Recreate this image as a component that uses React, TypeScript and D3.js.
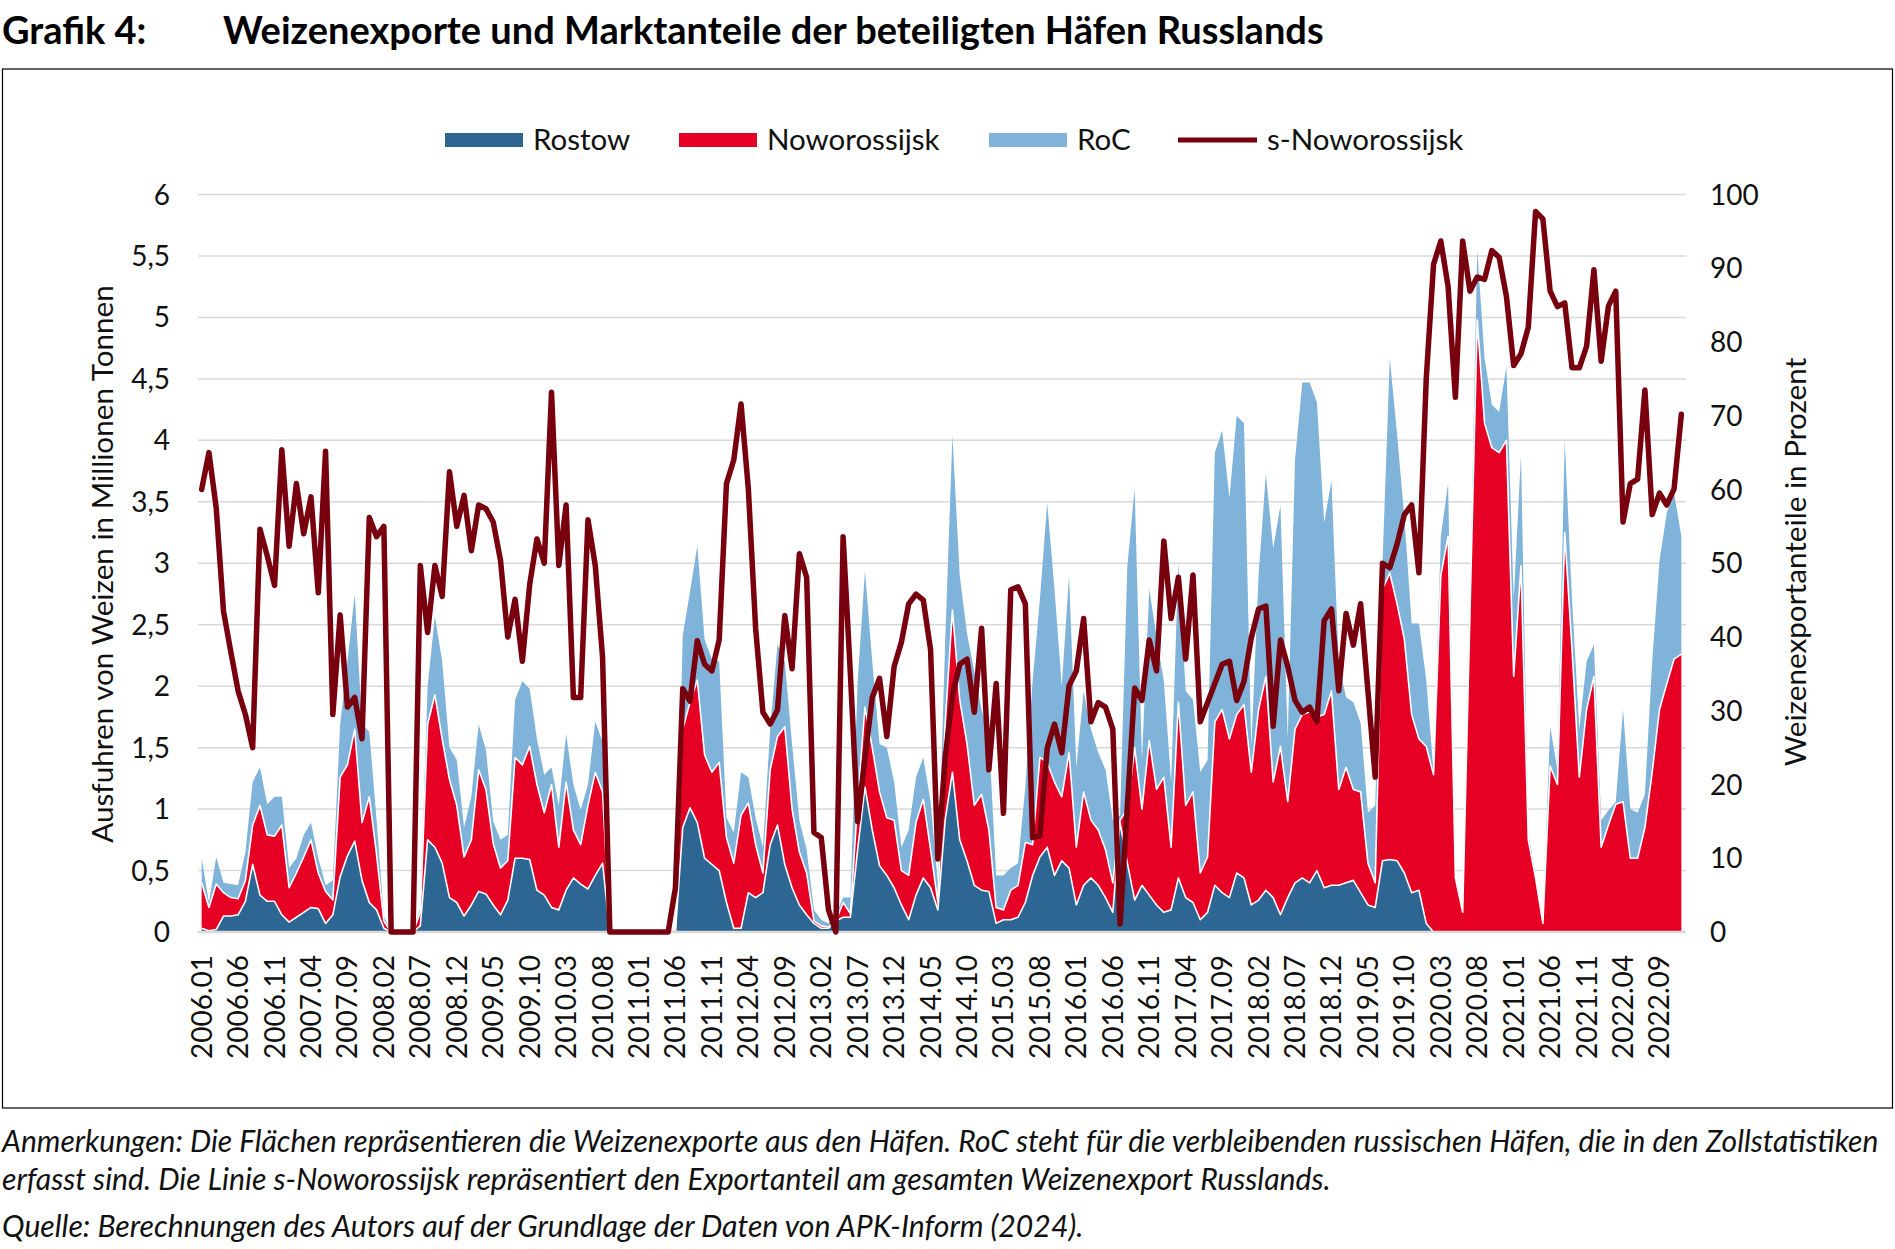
import React from "react";
import * as d3 from "d3";

// ---------- DATA (Mio. t, monthly 2006.01 – 2022.12) ----------
const startYear = 2006;
const nMonths = 204;
const months: string[] = d3.range(nMonths).map(
  (i) => `${startYear + Math.floor(i / 12)}.${String((i % 12) + 1).padStart(2, "0")}`
);

const rostow: number[] = [
  0.03, 0.01, 0.02, 0.13, 0.13, 0.14, 0.25, 0.55, 0.3, 0.25,
  0.25, 0.14, 0.08, 0.12, 0.16, 0.2, 0.19, 0.07, 0.14, 0.45,
  0.62, 0.74, 0.42, 0.24, 0.18, 0.03, 0, 0, 0, 0,
  0.05, 0.75, 0.69, 0.56, 0.28, 0.24, 0.13, 0.22, 0.33, 0.31,
  0.22, 0.14, 0.26, 0.6, 0.6, 0.59, 0.34, 0.3, 0.2, 0.18,
  0.34, 0.44, 0.39, 0.35, 0.46, 0.56, 0, 0, 0, 0,
  0, 0, 0, 0, 0, 0, 0.85, 1.01, 0.89, 0.6,
  0.55, 0.5, 0.24, 0.03, 0.03, 0.32, 0.28, 0.32, 0.71, 0.87,
  0.55, 0.36, 0.22, 0.14, 0.07, 0.03, 0.03, 0.09, 0.12, 0.12,
  0.67, 1.18, 0.83, 0.54, 0.46, 0.36, 0.22, 0.1, 0.3, 0.44,
  0.36, 0.18, 0.91, 1.3, 0.75, 0.58, 0.38, 0.34, 0.33, 0.07,
  0.1, 0.1, 0.12, 0.24, 0.46, 0.61, 0.69, 0.46, 0.58, 0.52,
  0.22, 0.38, 0.44, 0.38, 0.28, 0.16, 0.89, 0.56, 0.26, 0.38,
  0.3, 0.22, 0.16, 0.18, 0.44, 0.28, 0.24, 0.1, 0.16, 0.38,
  0.32, 0.28, 0.48, 0.44, 0.22, 0.26, 0.34, 0.28, 0.14, 0.28,
  0.4, 0.44, 0.4, 0.5, 0.36, 0.38, 0.38, 0.4, 0.42, 0.32,
  0.22, 0.2, 0.58, 0.59, 0.58, 0.48, 0.32, 0.34, 0.07, 0,
  0, 0, 0, 0, 0, 0, 0, 0, 0, 0,
  0, 0, 0, 0, 0, 0, 0, 0, 0, 0,
  0, 0, 0, 0, 0, 0, 0, 0, 0, 0,
  0, 0, 0, 0,
];

const noworossijsk: number[] = [
  0.37, 0.19, 0.37, 0.19, 0.15, 0.13, 0.17, 0.32, 0.73, 0.54,
  0.53, 0.73, 0.28, 0.36, 0.45, 0.55, 0.29, 0.26, 0.12, 0.81,
  0.74, 0.91, 0.47, 0.86, 0.45, 0.06, 0, 0, 0, 0,
  0.11, 0.94, 1.24, 1.01, 0.96, 0.79, 0.48, 0.53, 0.99, 0.85,
  0.5, 0.38, 0.32, 0.82, 0.76, 0.92, 0.86, 0.67, 1.0, 0.51,
  0.88, 0.39, 0.32, 0.68, 0.84, 0.58, 0, 0, 0, 0,
  0, 0, 0, 0, 0, 0.02, 0.8, 0.86, 1.16, 0.84,
  0.75, 0.88, 0.53, 0.53, 0.92, 0.73, 0.43, 0.16, 0.61, 0.72,
  1.12, 0.64, 0.43, 0.34, 0.02, 0.02, 0.01, 0, 0.12, 0.03,
  0.39, 0.65, 0.67, 0.6, 0.47, 0.55, 0.28, 0.36, 0.59, 0.64,
  0.31, 0.06, 0.78, 1.32, 1.14, 0.95, 0.65, 0.78, 0.5, 0.13,
  0.08, 0.24, 0.26, 0.49, 0.25, 0.81, 0.69, 0.76, 0.52, 0.94,
  0.47, 0.76, 0.47, 0.45, 0.39, 0.24, 0.02, 0.44, 1.24, 0.62,
  1.26, 0.94, 1.1, 0.51, 1.43, 0.75, 0.9, 0.38, 0.45, 1.33,
  1.49, 1.29, 1.29, 1.41, 1.08, 1.55, 1.74, 0.94, 1.37, 0.78,
  1.25, 1.33, 1.39, 1.25, 1.41, 1.58, 0.78, 0.94, 0.74, 0.82,
  0.34, 0.2, 2.21, 2.33, 2.09, 1.9, 1.45, 1.23, 1.44, 1.28,
  2.9, 3.22, 0.44, 0.16, 2.6, 4.98, 4.14, 3.94, 3.9, 4.0,
  2.08, 2.98, 0.75, 0.44, 0.07, 1.35, 1.2, 3.25, 2.3, 1.26,
  1.81, 2.08, 0.69, 0.87, 1.04, 1.06, 0.6, 0.6, 0.85, 1.3,
  1.81, 2.02, 2.22, 2.26,
];

const roc: number[] = [
  0.2, 0.04, 0.22, 0.08, 0.11, 0.11, 0.23, 0.35, 0.31, 0.25,
  0.32, 0.23, 0.16, 0.12, 0.18, 0.14, 0.12, 0.05, 0.16, 0.43,
  0.84, 1.1, 0.8, 0.53, 0.28, 0.04, 0, 0, 0, 0,
  0.04, 0.31, 0.64, 0.63, 0.26, 0.37, 0.24, 0.35, 0.37, 0.32,
  0.18, 0.23, 0.21, 0.47, 0.68, 0.47, 0.37, 0.31, 0.14, 0.34,
  0.39, 0.37, 0.28, 0.17, 0.41, 0.41, 0, 0, 0, 0,
  0, 0, 0, 0, 0, 0.01, 0.76, 0.9, 1.09, 0.94,
  0.92, 0.82, 0.16, 0.25, 0.35, 0.21, 0.22, 0.21, 0.33, 0.75,
  0.53, 0.53, 0.26, 0.19, 0.09, 0.05, 0.03, 0.05, 0.04, 0.13,
  0.98, 1.11, 0.7, 0.39, 0.57, 0.31, 0.19, 0.37, 0.37, 0.34,
  0.39, 0.16, 0.67, 1.42, 1.01, 0.9, 1.09, 0.69, 0.76, 0.26,
  0.28, 0.18, 0.18, 0.45, 1.33, 1.29, 2.11, 1.57, 0.9, 1.44,
  0.65, 0.82, 0.74, 0.63, 0.65, 0.51, 0.04, 1.98, 2.11, 0.4,
  1.23, 1.24, 0.78, 0.53, 1.13, 0.93, 0.75, 0.82, 0.79, 2.19,
  2.27, 1.96, 2.43, 2.29, 0.2, 1.09, 1.65, 1.9, 1.96, 0.51,
  2.19, 2.7, 2.68, 2.56, 1.56, 1.71, 1.02, 0.57, 0.71, 0.56,
  0.41, 0.63, 0.21, 1.75, 1.38, 0.99, 0.74, 0.94, 0.54, 0.02,
  0.32, 0.43, 0.02, 0.01, 0.05, 0.57, 0.53, 0.35, 0.33, 0.6,
  0.63, 0.9, 0.05, 0.02, 0.01, 0.32, 0.12, 0.75, 0.41, 0.39,
  0.39, 0.26, 0.22, 0.12, 0.02, 0.75, 0.4, 0.37, 0.27, 0.9,
  1.21, 1.39, 1.35, 0.96,
];

// s-Noworossijsk: export share in %
const shareNoworossijsk: number[] = [
  60, 65, 57.5, 43.5, 38, 32.7, 29.5, 25, 54.6, 51,
  47, 65.4, 52.3, 60.8, 54, 59, 46, 65.2, 29.5, 43,
  30.5, 31.8, 26.2, 56.2, 53.6, 55, 0, 0, 0, 0,
  49.7, 40.6, 49.7, 45.5, 62.4, 55, 59.2, 51.7, 57.9, 57.4,
  55.6, 50.4, 40, 45.1, 36.7, 47.1, 53.3, 50, 73.2, 49.7,
  57.9, 31.8, 31.8, 55.9, 49.7, 37.3, 0, 0, 0, 0,
  0, 0, 0, 0, 0, 6, 33, 31.3, 39.5, 36.3,
  35.4, 39.6, 60.8, 64, 71.6, 60.1, 41.2, 29.8, 28.2, 30.1,
  42.9, 35.7, 51.3, 48.1, 13.5, 12.8, 3, 0, 53.6, 35,
  15, 23.6, 31.8, 34.4, 26.5, 36, 39.3, 44.5, 45.8, 45,
  38.3, 9.9, 23.6, 32.1, 36.3, 37, 29.8, 41.2, 22, 33.7,
  16.1, 46.4, 46.8, 44.5, 12.8, 13, 24.9, 28.2, 24.3, 33.4,
  35.4, 42.5, 28.5, 31.1, 30.5, 27.5, 1.1, 17.1, 33.1, 31.4,
  39.6, 35.4, 53, 42.5, 48.1, 37, 48.4, 28.5, 31.1, 33.7,
  36.3, 36.7, 31.4, 34, 39.9, 43.8, 44.2, 27.9, 39.6, 36,
  31.4, 29.8, 30.5, 28.5, 42.2, 43.8, 32.7, 43.2, 38.9, 44.5,
  32.7, 21, 50, 49.4, 52.6, 56.6, 57.9, 48.7, 75, 90.5,
  93.7, 87.5, 72.5, 93.7, 86.9, 88.8, 88.5, 92.4, 91.5, 86.2,
  76.8, 78.4, 82, 97.7, 96.7, 86.9, 84.8, 85.3, 76.5, 76.5,
  79.4, 89.8, 77.4, 84.9, 86.9, 55.6, 60.8, 61.4, 73.5, 56.6,
  59.5, 57.9, 60.1, 70.2,
];

const leftTicks: number[] = [0, 0.5, 1, 1.5, 2, 2.5, 3, 3.5, 4, 4.5, 5, 5.5, 6];
const rightTicks: number[] = [0, 10, 20, 30, 40, 50, 60, 70, 80, 90, 100];
const xTickLabels: string[] = months.filter((_, i) => i % 5 === 0);

const seriesNames = ["Rostow", "Noworossijsk", "RoC"];
const lineName = "s-Noworossijsk";

const COLORS = {
  rostow: "#2d6692",
  nowor: "#e60023",
  roc: "#80b3da",
  line: "#78000e",
  grid: "#d9d9d9",
};

const FONT = "Lato, 'Open Sans', sans-serif";

export default function App() {
  const W = 1895;
  const H = 1249;
  const x = d3.scalePoint<string>().domain(months).range([198, 1685]).padding(0.5);
  const y = d3.scaleLinear().domain([0, 6]).range([932, 194.5]);
  const y2 = d3.scaleLinear().domain([0, 100]).range([932, 194.5]);

  const rows = months.map((m, i) => ({
    m,
    rostow: rostow[i],
    nowor: noworossijsk[i],
    roc: roc[i],
  }));
  const stack = d3.stack<any>().keys(["rostow", "nowor", "roc"]);
  const layers = stack(rows);
  const area = d3
    .area<any>()
    .x((d) => x(d.data.m) as number)
    .y0((d) => y(d[0]))
    .y1((d) => y(d[1]));
  const topLine = d3
    .line<any>()
    .x((d) => x(d.data.m) as number)
    .y((d) => y(d[1]));
  const shareLine = d3
    .line<number>()
    .x((_, i) => x(months[i]) as number)
    .y((d) => y2(d));

  const fills = [COLORS.rostow, COLORS.nowor, COLORS.roc];
  const gridX1 = 198;
  const gridX2 = 1686;

  const legend = [
    { sx: 445, tx: 533, label: seriesNames[0], color: COLORS.rostow },
    { sx: 679, tx: 767, label: seriesNames[1], color: COLORS.nowor },
    { sx: 989, tx: 1077, label: seriesNames[2], color: COLORS.roc },
  ];

  return (
    <div style={{ position: "absolute", left: 0, top: 0 }}>
      <svg width={W} height={H} style={{ display: "block", background: "#fff" }} fontFamily={FONT}>
        {/* Title */}
        <text x={2} y={44} fontSize={38} fontWeight={700} fill="#000">Grafik 4:</text>
        <text x={223} y={44} fontSize={38} fontWeight={700} fill="#000">
          Weizenexporte und Marktanteile der beteiligten Häfen Russlands
        </text>

        {/* Frame */}
        <rect x={2.5} y={69} width={1890} height={1039} fill="none" stroke="#000" strokeWidth={1.2} />

        {/* Legend */}
        {legend.map((l) => (
          <g key={l.label}>
            <rect x={l.sx} y={133} width={78} height={14} fill={l.color} />
            <text x={l.tx} y={150} fontSize={29.5} fill="#111">{l.label}</text>
          </g>
        ))}
        <line x1={1178} x2={1257} y1={140} y2={140} stroke={COLORS.line} strokeWidth={5} />
        <text x={1267} y={150} fontSize={29.5} fill="#111">{lineName}</text>

        {/* Grid */}
        {leftTicks.filter((t) => t > 0).map((t) => (
          <line key={t} x1={gridX1} x2={gridX2} y1={y(t)} y2={y(t)} stroke={COLORS.grid} strokeWidth={1.5} />
        ))}

        {/* Areas */}
        {layers.map((layer, k) => (
          <path key={k} d={area(layer) || ""} fill={fills[k]} />
        ))}
        {layers.slice(0, 2).map((layer, k) => (
          <path key={"w" + k} d={topLine(layer) || ""} fill="none" stroke="#fff" strokeWidth={1.6} strokeLinejoin="round" />
        ))}

        {/* Baseline */}
        <line x1={gridX1} x2={gridX2} y1={y(0)} y2={y(0)} stroke={COLORS.grid} strokeWidth={2.5} />

        {/* Share line */}
        <path
          d={shareLine(shareNoworossijsk) || ""}
          fill="none"
          stroke={COLORS.line}
          strokeWidth={5.5}
          strokeLinejoin="round"
          strokeLinecap="round"
        />

        {/* Left ticks */}
        {leftTicks.map((t) => (
          <text key={t} x={170} y={y(t) + 10} fontSize={28} textAnchor="end" fill="#111">
            {String(t).replace(".", ",")}
          </text>
        ))}
        {/* Right ticks */}
        {rightTicks.map((t) => (
          <text key={t} x={1710} y={y2(t) + 10} fontSize={28} textAnchor="start" fill="#111">
            {t}
          </text>
        ))}

        {/* X labels */}
        {xTickLabels.map((lab) => {
          const px = x(lab) as number;
          return (
            <text
              key={lab}
              transform={`translate(${px + 10},955) rotate(-90)`}
              fontSize={28}
              textAnchor="end"
              fill="#111"
            >
              {lab}
            </text>
          );
        })}

        {/* Axis titles */}
        <text transform="translate(113,564) rotate(-90)" fontSize={29.7} textAnchor="middle" fill="#111">
          Ausfuhren von Weizen in Millionen Tonnen
        </text>
        <text transform="translate(1806,562) rotate(-90)" fontSize={29.7} textAnchor="middle" fill="#111">
          Weizenexportanteile in Prozent
        </text>

        {/* Footnotes */}
        <text x={2} y={1152} fontSize={30} fontStyle="italic" fill="#111">
          Anmerkungen: Die Flächen repräsentieren die Weizenexporte aus den Häfen. RoC steht für die verbleibenden russischen Häfen, die in den Zollstatistiken
        </text>
        <text x={2} y={1190} fontSize={30.2} fontStyle="italic" fill="#111">
          erfasst sind. Die Linie s-Noworossijsk repräsentiert den Exportanteil am gesamten Weizenexport Russlands.
        </text>
        <text x={2} y={1237} fontSize={30.2} fontStyle="italic" fill="#111">
          Quelle: Berechnungen des Autors auf der Grundlage der Daten von APK-Inform (2024).
        </text>
      </svg>
    </div>
  );
}
